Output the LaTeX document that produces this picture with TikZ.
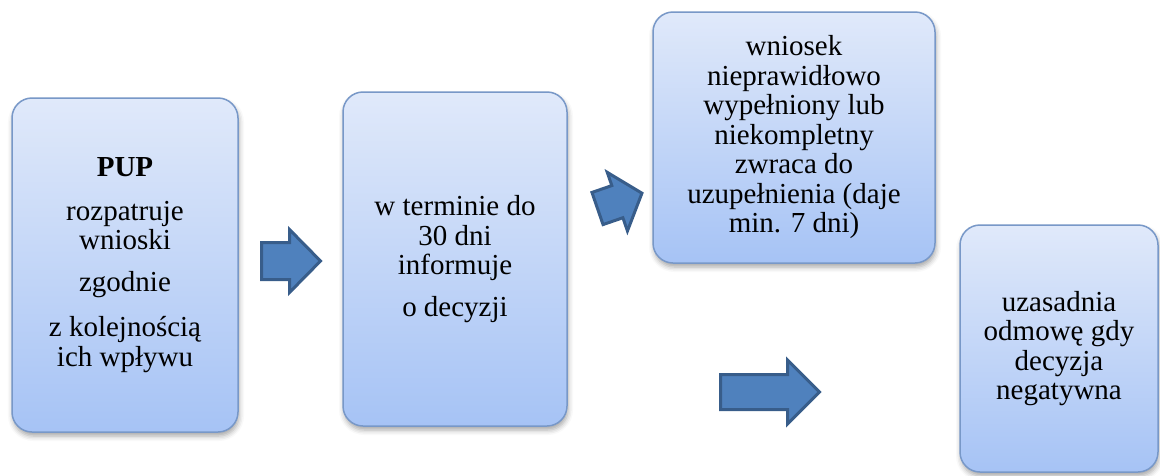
\documentclass[tikz,border=0pt]{standalone}
\usepackage{fontspec}
\setmainfont{Liberation Serif}
\usetikzlibrary{shadows.blur}
\definecolor{boxtop}{HTML}{E0E9FA}
\definecolor{boxbot}{HTML}{A6C3F5}
\definecolor{boxline}{HTML}{7898C8}
\definecolor{arrfill}{HTML}{4F81BD}
\definecolor{arrline}{HTML}{385D8A}
% #1 tail centre, #2 angle, #3 length, #4 half shaft, #5 half head, #6 head length
\newcommand\blockarr[6]{%
  \begin{scope}[shift={#1}, rotate=#2]
    \draw[blockarrow] (0,-#4) -- ({#3-#6},-#4) -- ({#3-#6},-#5) -- (#3,0)
      -- ({#3-#6},#5) -- ({#3-#6},#4) -- (0,#4) -- cycle;
  \end{scope}}
\begin{document}
\begin{tikzpicture}[x=1pt,y=-1pt,
  flowbox/.style={draw=boxline, line width=1.5pt, rounded corners=20pt,
    top color=boxtop, bottom color=boxbot, align=center, inner sep=0pt,
    font=\fontsize{29}{29.5}\selectfont,
    blur shadow={shadow xshift=1pt, shadow yshift=-4pt, shadow blur radius=5pt, shadow opacity=35}},
  blockarrow/.style={draw=arrline, fill=arrfill, line width=3pt, line join=miter}
]
\useasboundingbox (0,0) rectangle (1160,475);
\node[flowbox, minimum width=226pt, minimum height=334pt] (b1) at (125,265)
  {\textbf{PUP}\\[14pt] rozpatruje\\ wnioski\\[12pt] zgodnie\\[16pt] z kolejnością\\ ich wpływu};
\node[flowbox, minimum width=224pt, minimum height=334pt] (b2) at (455,259)
  {w terminie do\\ 30 dni\\ informuje\\[12pt] o decyzji};
\node[flowbox, minimum width=282pt, minimum height=251pt] (b3) at (794,137.5)
  {wniosek\\ nieprawidłowo\\ wypełniony lub\\ niekompletny\\ zwraca do\\ uzupełnienia (daje\\ min. 7 dni)};
\node[flowbox, minimum width=198pt, minimum height=247pt] (b4) at (1059,348.5)
  {uzasadnia\\ odmowę gdy\\ decyzja\\ negatywna};
\blockarr{(261.5,261)}{0}{59}{18.5}{31.5}{31}
\blockarr{(597.5,208.5)}{19}{47}{17}{31}{26}
\blockarr{(720.5,392)}{0}{99}{17.5}{32}{32}
\end{tikzpicture}
\end{document}
